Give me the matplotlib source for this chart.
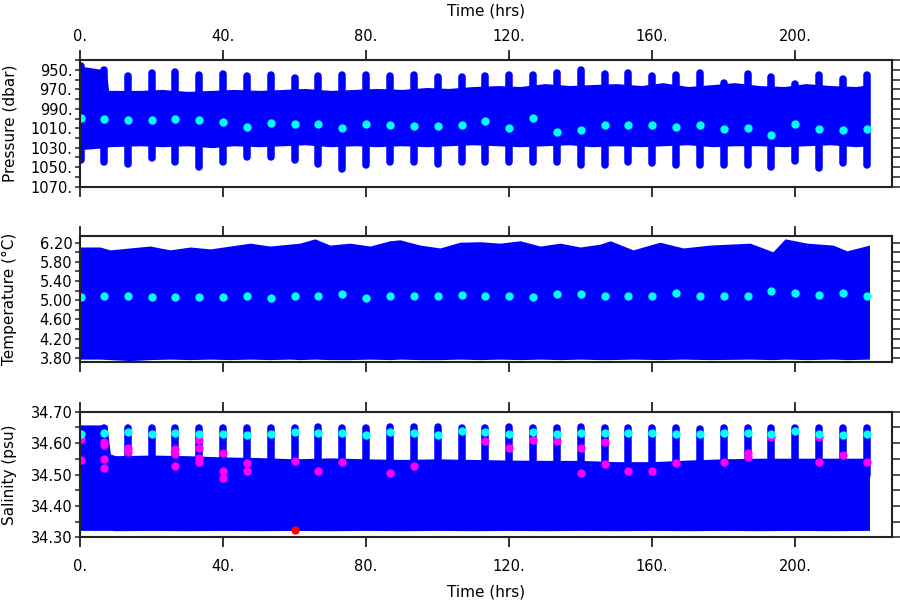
import matplotlib
matplotlib.use("Agg")
import matplotlib.pyplot as plt
from matplotlib.ticker import MultipleLocator, FormatStrFormatter

# profile times (hrs)
prof_t = [0.3, 6.7, 13.3, 20.0, 26.7, 33.3, 40.0, 46.6, 53.3, 60.0, 66.7, 73.3,
          80.0, 86.7, 93.3, 100.0, 106.7, 113.3, 120.0, 126.7, 133.3, 140.0,
          146.7, 153.3, 160.0, 166.7, 173.3, 180.0, 186.7, 193.3, 200.0, 206.7,
          213.3, 220.0]

# pressure
pres_mean = [999.8, 1000.0, 1002.0, 1002.0, 1000.5, 1002.0, 1003.6, 1008.7, 1005.0,
             1005.6, 1005.3, 1010.0, 1005.3, 1006.7, 1007.7, 1008.0, 1007.0, 1002.5,
             1009.7, 999.8, 1014.0, 1011.8, 1007.0, 1007.0, 1007.0, 1008.4, 1006.7,
             1011.0, 1010.0, 1016.6, 1005.3, 1010.4, 1011.5, 1010.4]
pres_spike_top = [945.6, 950.2, 956.6, 953.6, 951.6, 955.3, 954.3, 956.6, 955.3, 958.6,
                  956.3, 955.3, 955.3, 956.6, 955.3, 957.6, 957.6, 956.3, 955.3, 955.3,
                  953.6, 950.2, 954.6, 952.9, 956.6, 955.3, 953.6, 963.6, 954.6, 957.6,
                  964.6, 955.3, 959.6, 955.3]
pres_spike_bot = [1042.4, 1044.4, 1046.4, 1040.8, 1044.4, 1049.4, 1044.4, 1039.1, 1039.1,
                  1042.4, 1046.4, 1052.1, 1047.4, 1044.4, 1044.4, 1046.4, 1044.4, 1044.4,
                  1044.4, 1044.4, 1044.4, 1047.4, 1047.4, 1044.4, 1046.0, 1047.4, 1047.4,
                  1047.4, 1047.4, 1050.1, 1043.2, 1051.1, 1046.0, 1047.4]
pres_band_t = [0, 7.3, 8.0, 17, 23, 30, 37, 43, 50, 57, 63, 70, 77, 83, 90, 97, 103,
               110, 117, 123, 130, 137, 143, 150, 157, 163, 170, 177, 183, 190, 197,
               203, 210, 217, 220.8]
pres_band_hi = [946, 950, 971, 971, 970, 972, 971, 970, 971, 970, 969, 971, 970, 969,
                970, 968, 969, 967, 966, 967, 964, 966, 965, 964, 966, 963, 967, 965,
                963, 966, 967, 964, 966, 967, 965]
pres_band_lo = [1032, 1030, 1029, 1028, 1029, 1028, 1030, 1028, 1029, 1028, 1027, 1029,
                1028, 1029, 1028, 1029, 1028, 1027, 1028, 1029, 1028, 1027, 1029, 1028,
                1029, 1028, 1027, 1029, 1028, 1028, 1029, 1028, 1027, 1029, 1028]
pres_ticks = [950, 970, 990, 1010, 1030, 1050, 1070]

# temperature
temp_mean = [5.07, 5.09, 5.09, 5.07, 5.06, 5.07, 5.06, 5.08, 5.05, 5.09, 5.09, 5.13,
             5.05, 5.08, 5.09, 5.08, 5.11, 5.09, 5.09, 5.07, 5.13, 5.13, 5.09, 5.09,
             5.09, 5.14, 5.09, 5.09, 5.09, 5.20, 5.16, 5.11, 5.14, 5.09]
temp_band_t = [0, 5.6, 8.4, 14.0, 19.6, 25.2, 30.8, 36.4, 42.0, 47.6, 53.1, 58.7, 61.5,
               65.7, 69.9, 75.5, 81.1, 86.7, 89.5, 95.1, 100.7, 106.3, 111.9, 117.5,
               123.1, 128.7, 134.3, 139.9, 145.5, 148.3, 154.7, 162.2, 168.7, 176.2,
               187.4, 193.8, 197.2, 203.4, 210.6, 214.5, 220.8]
temp_band_hi = [6.11, 6.11, 6.05, 6.09, 6.13, 6.05, 6.11, 6.07, 6.13, 6.19, 6.13, 6.17,
                6.19, 6.28, 6.15, 6.19, 6.13, 6.24, 6.26, 6.15, 6.09, 6.21, 6.22, 6.19,
                6.24, 6.13, 6.19, 6.11, 6.17, 6.24, 6.05, 6.21, 6.09, 6.15, 6.19, 6.01,
                6.28, 6.19, 6.15, 6.03, 6.15]
temp_band_lo = [3.77, 3.77, 3.76, 3.74, 3.76, 3.77, 3.76, 3.77, 3.76, 3.77, 3.76, 3.77,
                3.76, 3.77, 3.76, 3.76, 3.77, 3.76, 3.77, 3.76, 3.76, 3.77, 3.76, 3.77,
                3.76, 3.77, 3.76, 3.77, 3.76, 3.76, 3.77, 3.76, 3.77, 3.76, 3.77, 3.76,
                3.77, 3.76, 3.77, 3.76, 3.77]
temp_ticks = [3.8, 4.2, 4.6, 5.0, 5.4, 5.8, 6.2]

# salinity
sal_mean = [34.629, 34.631, 34.636, 34.629, 34.632, 34.628, 34.628, 34.626, 34.629,
            34.636, 34.631, 34.631, 34.626, 34.636, 34.633, 34.626, 34.638, 34.636,
            34.628, 34.636, 34.628, 34.631, 34.631, 34.631, 34.631, 34.629, 34.628,
            34.631, 34.631, 34.629, 34.638, 34.628, 34.627, 34.629]
sal_spike_top = [34.647, 34.648, 34.649, 34.648, 34.649, 34.647, 34.648, 34.647, 34.648,
                 34.649, 34.651, 34.649, 34.649, 34.650, 34.651, 34.651, 34.649, 34.648,
                 34.651, 34.649, 34.649, 34.650, 34.648, 34.648, 34.648, 34.648, 34.646,
                 34.648, 34.647, 34.648, 34.648, 34.648, 34.648, 34.648]
sal_band_t = [0, 7.5, 8.5, 10, 20, 30, 40, 50, 60, 70, 80, 90, 100, 110, 120, 130, 140,
              150, 160, 170, 180, 190, 200, 210, 220.8]
sal_band_hi = [34.658, 34.658, 34.565, 34.560, 34.562, 34.560, 34.556, 34.554, 34.550,
               34.553, 34.550, 34.548, 34.550, 34.548, 34.546, 34.545, 34.545, 34.541,
               34.541, 34.546, 34.550, 34.552, 34.552, 34.552, 34.552]
sal_band_lo = [34.322, 34.322, 34.322, 34.321, 34.322, 34.321, 34.322, 34.321, 34.322,
               34.321, 34.322, 34.321, 34.322, 34.321, 34.322, 34.321, 34.322, 34.321,
               34.322, 34.321, 34.322, 34.321, 34.322, 34.321, 34.322]
sal_mag_t = [0.3, 0.3, 6.7, 6.7, 6.7, 6.7, 13.3, 13.3, 26.7, 26.7, 26.7, 33.3, 33.3, 33.3,
             33.3, 40.0, 40.0, 40.0, 46.6, 46.6, 60.0, 66.7, 73.3, 86.7, 93.3, 113.3,
             120.0, 126.7, 133.3, 140.0, 140.0, 146.7, 146.7, 153.3, 160.0, 166.7, 180.0,
             186.7, 186.7, 193.3, 206.7, 206.7, 213.3, 220.0]
sal_mag_v = [34.612, 34.546, 34.604, 34.594, 34.548, 34.520, 34.583, 34.573, 34.580,
             34.564, 34.528, 34.610, 34.583, 34.552, 34.541, 34.568, 34.512, 34.490,
             34.538, 34.512, 34.543, 34.511, 34.541, 34.504, 34.527, 34.607, 34.585,
             34.610, 34.607, 34.583, 34.504, 34.604, 34.532, 34.511, 34.512, 34.536,
             34.539, 34.568, 34.557, 34.618, 34.618, 34.539, 34.562, 34.541]
sal_red_t = [60.0]
sal_red_v = [34.322]

BLUE = "#0000ff"
CYAN = "#00ffff"
MAG = "#ff00ff"
RED = "#ff0000"
AXC = "#222222"
plt.rcParams["font.family"] = ["DejaVu Sans"]

fig = plt.figure(figsize=(9, 6), dpi=100)
ax1 = fig.add_axes([0.0889, 0.6888, 0.9022, 0.2112])
ax2 = fig.add_axes([0.0889, 0.3972, 0.9022, 0.2100])
ax3 = fig.add_axes([0.0889, 0.1045, 0.9022, 0.2093])

ms = 6.0
lw_spike = 5.4

# pressure
ax1.fill_between(pres_band_t, pres_band_hi, pres_band_lo, color=BLUE, lw=0)
ax1.vlines(prof_t, pres_spike_top, pres_spike_bot, color=BLUE, lw=lw_spike,
           capstyle="round")
ax1.plot(prof_t, pres_mean, "o", color=CYAN, ms=ms, mew=0)
ax1.set_ylim(1070.2, 939.7)
ax1.set_yticks(pres_ticks)
ax1.yaxis.set_minor_locator(MultipleLocator(10))
ax1.yaxis.set_major_formatter(FormatStrFormatter("%d."))
ax1.set_ylabel("Pressure (dbar)")

# temperature
ax2.fill_between(temp_band_t, temp_band_hi, temp_band_lo, color=BLUE, lw=0)
ax2.plot(prof_t, temp_mean, "o", color=CYAN, ms=ms, mew=0)
ax2.set_ylim(3.717, 6.346)
ax2.set_yticks(temp_ticks)
ax2.yaxis.set_minor_locator(MultipleLocator(0.2))
ax2.yaxis.set_major_formatter(FormatStrFormatter("%.2f"))
ax2.set_ylabel("Temperature (\u00b0C)")

# salinity
ax3.fill_between(sal_band_t, sal_band_hi, sal_band_lo, color=BLUE, lw=0)
ax3.vlines(prof_t[1:], 34.50, sal_spike_top[1:], color=BLUE, lw=lw_spike,
           capstyle="round")
ax3.plot(sal_mag_t, sal_mag_v, "o", color=MAG, ms=ms, mew=0)
ax3.plot(prof_t, sal_mean, "o", color=CYAN, ms=ms, mew=0)
ax3.plot(sal_red_t, sal_red_v, "o", color=RED, ms=ms, mew=0)
ax3.set_ylim(34.30, 34.70)
ax3.yaxis.set_major_locator(MultipleLocator(0.1))
ax3.yaxis.set_minor_locator(MultipleLocator(0.05))
ax3.yaxis.set_major_formatter(FormatStrFormatter("%.2f"))
ax3.set_ylabel("Salinity (psu)")

for ax in (ax1, ax2, ax3):
    ax.set_xlim(0, 227.1)
    ax.xaxis.set_major_locator(MultipleLocator(40))
    ax.xaxis.set_major_formatter(FormatStrFormatter("%d."))
    for s in ax.spines.values():
        s.set_color(AXC)
        s.set_linewidth(1.5)
    ax.tick_params(axis="x", which="major", direction="out", length=7.5, width=1.3,
                   color=AXC, top=True, bottom=True, labeltop=False,
                   labelbottom=False, labelsize=10.5, pad=8)
    ax.tick_params(axis="y", which="both", direction="out", width=1.1, color=AXC,
                   left=True, right=True, labelsize=10.5, pad=2)
    ax.tick_params(axis="y", which="both", length=3.5)
    ax.yaxis.set_label_coords(-0.077, 0.5)
    ax.yaxis.label.set_size(11)

ax1.tick_params(axis="x", labeltop=True, pad=4)
ax1.xaxis.set_label_position("top")
ax1.set_xlabel("Time (hrs)", fontsize=11, labelpad=10)
ax3.tick_params(axis="x", labelbottom=True)
ax3.set_xlabel("Time (hrs)", fontsize=11, labelpad=8)

# right side ticks are longer, pointing outward
for ax in (ax1, ax2, ax3):
    for t in ax.yaxis.get_major_ticks() + ax.yaxis.get_minor_ticks():
        t.tick2line.set_markersize(6)

fig.savefig("out.png", dpi=100)
plt.close(fig)
